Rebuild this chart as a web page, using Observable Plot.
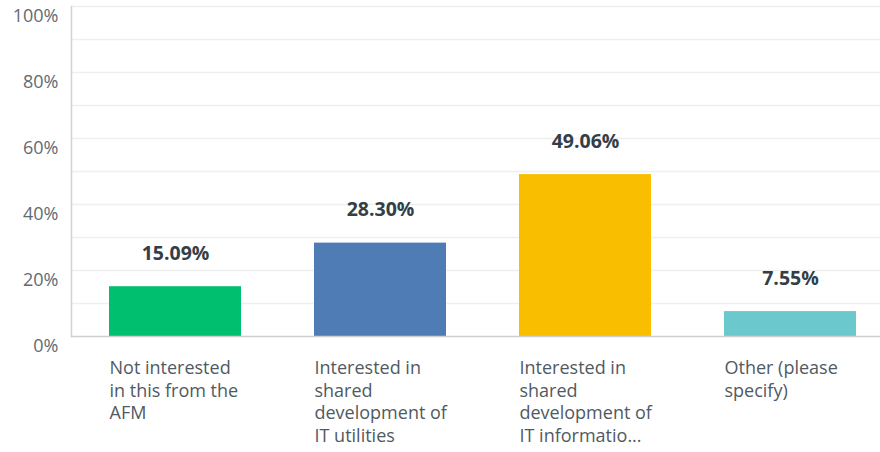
<!DOCTYPE html>
<html>
<head>
<meta charset="utf-8">
<script src="https://cdn.jsdelivr.net/npm/d3@7"></script>
<script src="https://cdn.jsdelivr.net/npm/@observablehq/plot@0.6"></script>
<style>
  html, body { margin: 0; padding: 0; background: #fff; overflow: hidden; }
  #chart svg { overflow: hidden; }
</style>
</head>
<body>
<div id="chart"></div>
<script>
const categories = ["c1", "c2", "c3", "c4"];
const categoryLabels = [
  "Not interested\nin this from the\nAFM",
  "Interested in\nshared\ndevelopment of\nIT utilities",
  "Interested in\nshared\ndevelopment of\nIT informatio...",
  "Other (please\nspecify)"
];
const values = [15.09, 28.30, 49.06, 7.55];
const valueLabels = ["15.09%", "28.30%", "49.06%", "7.55%"];
const colors = ["#00bf6f", "#507cb6", "#f9be00", "#6bc8cd"];
const yTicks = [0, 20, 40, 60, 80, 100];
const gridLines = [10, 20, 30, 40, 50, 60, 70, 80, 90, 100];

const data = categories.map((c, i) => ({
  cat: c, label: categoryLabels[i], value: values[i], vlabel: valueLabels[i], color: colors[i]
}));

const chart = Plot.plot({
  width: 880,
  height: 452,
  marginTop: 6,
  marginLeft: 71,
  marginRight: 0,
  marginBottom: 116,
  style: { fontFamily: "'Open Sans', sans-serif", background: "#fff" },
  x: { domain: categories, range: [71, 893], paddingInner: 0.358, paddingOuter: 0.179, axis: null },
  y: { domain: [0, 100], axis: null },
  marks: [
    Plot.ruleY(gridLines, { stroke: "#efefef", strokeWidth: 1.5 }),
    Plot.frame({ anchor: "left", stroke: "#d4d4d4", strokeWidth: 1.5 }),
    Plot.barY(data, { x: "cat", y: "value", fill: "color" }),
    Plot.ruleY([0], { stroke: "#cfcfcf", strokeWidth: 1.5 }),
    Plot.axisY(yTicks, {
      label: null,
      tickSize: 0, tickPadding: 13, dy: 10,
      tickFormat: d => d + "%",
      fontSize: 18, fill: "#5f6b73", color: "#5f6b73"
    }),
    Plot.text(data, {
      x: "cat", y: "value", text: "vlabel", dy: -33,
      fontSize: 19.5, fontWeight: "bold", fill: "#333e48", lineAnchor: "middle"
    }),
    Plot.text(data, {
      x: "cat", y: 0, text: "label", dx: -66, dy: 21,
      textAnchor: "start", lineAnchor: "top", lineHeight: 1.27,
      fontSize: 18, fill: "#4f5a62"
    })
  ]
});
document.getElementById("chart").appendChild(chart);
</script>
</body>
</html>
